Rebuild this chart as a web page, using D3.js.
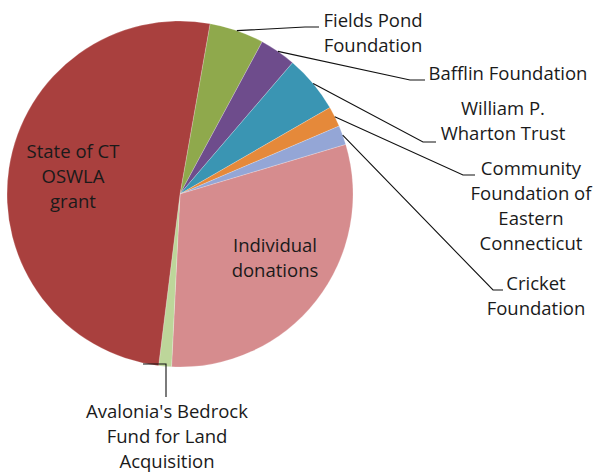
<!DOCTYPE html>
<html><head><meta charset="utf-8">
<script src="https://cdn.jsdelivr.net/npm/d3@7"></script>
<style>body{margin:0;background:#fff}svg{display:block}text{font-family:"Open Sans",Lato,sans-serif;fill:#1a1a1a}</style>
</head><body><svg id="c" width="606" height="473"></svg>
<script>
const categories = ["Fields Pond Foundation","Bafflin Foundation","William P. Wharton Trust","Community Foundation of Eastern Connecticut","Cricket Foundation","Individual donations","Avalonia's Bedrock Fund for Land Acquisition","State of CT OSWLA grant"];
const values = [5.1, 3.4, 5.4, 1.9, 1.8, 30.4, 1.2, 50.8];
const colors = ["#8FA94C","#6E4C8C","#3A95B3","#E5893A","#94A6D6","#D68C8E","#BDD69A","#A9403E"];
const labelLines = [["Fields Pond","Foundation"],["Bafflin Foundation"],["William P.","Wharton Trust"],["Community","Foundation of","Eastern","Connecticut"],["Cricket","Foundation"],["Individual","donations"],["Avalonia's Bedrock","Fund for Land","Acquisition"],["State of CT","OSWLA","grant"]];

// layout (not data)
const cx = 180, cy = 194, R = 173, startDeg = 10;
const labelPos = [
  {x:373, y:27, lead:[[319,27],[305,27]]},
  {x:508, y:80, lead:[[425,80],[410,80]]},
  {x:503, y:115, lead:[[436,142],[423,142]]},
  {x:531, y:175, lead:[[475,175],[463,175]]},
  {x:536, y:290, lead:[[503,290],[493,290]]},
  {x:275, y:252, lead:null},
  {x:167, y:418, lead:[[166,397],[166,364],[143,364]], fromPoint:true},
  {x:73, y:158, lead:null}
];
const lineH = 25, fontSize = 18.5;

const svg = d3.select("#c");
const g = svg.append("g").attr("transform", `translate(${cx},${cy})`);
const pie = d3.pie().sort(null).value(d => d)
  .startAngle(startDeg*Math.PI/180).endAngle(startDeg*Math.PI/180 + 2*Math.PI);
const arcs = pie(values);
const arc = d3.arc().innerRadius(0).outerRadius(R);

g.selectAll("path.slice").data(arcs).join("path")
  .attr("class","slice").attr("d", arc)
  .attr("fill", (d,i) => colors[i])
  .attr("stroke", "#ffffff").attr("stroke-opacity",0.35).attr("stroke-width", 0.6);

// leader lines
arcs.forEach((a,i) => {
  const lp = labelPos[i];
  if (!lp.lead) return;
  const m = (a.startAngle + a.endAngle)/2;
  const sx = cx + R*Math.sin(m), sy = cy - R*Math.cos(m);
  const pts = lp.fromPoint ? lp.lead.map(p => [p[0], p[1]]) : [[sx, sy], lp.lead[1], lp.lead[0]];
  svg.append("path").attr("d", d3.line()(pts))
    .attr("fill","none").attr("stroke","#111").attr("stroke-width",1.1);
});

// labels
labelLines.forEach((lines,i) => {
  const lp = labelPos[i];
  const t = svg.append("text").attr("text-anchor", "middle").attr("font-size", fontSize);
  lines.forEach((ln,k) => {
    t.append("tspan").attr("x", lp.x).attr("y", lp.y + k*lineH).text(ln);
  });
});
</script></body></html>
